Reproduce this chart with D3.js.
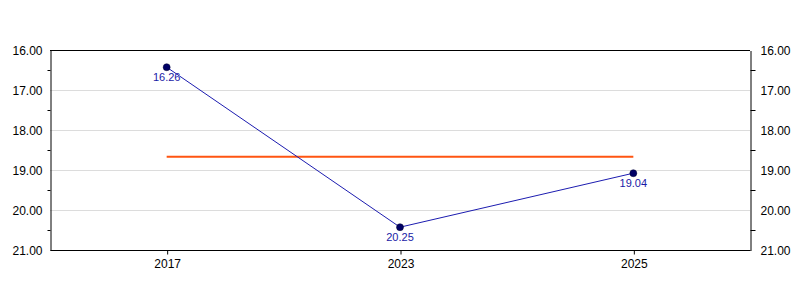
<!DOCTYPE html>
<html>
<head>
<meta charset="utf-8">
<script src="https://cdn.jsdelivr.net/npm/d3@7"></script>
<style>
  body { margin: 0; background: #fff; }
  text { font-family: "Liberation Sans", Arial, sans-serif; }
</style>
</head>
<body>
<div id="chart"></div>
<script>
// data
const years = ["2017", "2023", "2025"];
const values = [16.43, 20.43, 19.08];       // plotted positions
const valueLabels = ["16.26", "20.25", "19.04"]; // printed labels
const average = 18.67;
const yTicks = [16, 17, 18, 19, 20, 21];
const yMinorTicks = [16.5, 17.5, 18.5, 19.5, 20.5];

const W = 800, H = 300;
const margin = { top: 50, right: 50, bottom: 50, left: 50 };

const svg = d3.select("#chart").append("svg")
  .attr("width", W).attr("height", H);

const x = d3.scalePoint()
  .domain(years)
  .range([margin.left, W - margin.right])
  .padding(0.5);

const y = d3.scaleLinear()
  .domain([16, 21])
  .range([margin.top, H - margin.bottom]);

// grid
svg.append("g")
  .selectAll("line")
  .data(yTicks.slice(1, -1))
  .join("line")
  .attr("x1", margin.left).attr("x2", W - margin.right)
  .attr("y1", d => y(d) + 0.5).attr("y2", d => y(d) + 0.5)
  .attr("stroke", "#dcdcdc");

// top border
svg.append("line")
  .attr("x1", margin.left).attr("x2", W - margin.right)
  .attr("y1", margin.top + 0.5).attr("y2", margin.top + 0.5)
  .attr("stroke", "#000");

const fmt = d3.format(".2f");

function styleAxis(g) {
  g.select(".domain").attr("stroke", "#000");
  g.selectAll(".tick line").attr("stroke", "#000");
  g.selectAll(".tick text")
    .attr("fill", "#000")
    .attr("font-size", "12px")
    .attr("font-family", "'Liberation Sans', Arial, sans-serif");
}

// left axis
const left = svg.append("g")
  .attr("transform", `translate(${margin.left + 0.5},0.5)`)
  .call(d3.axisLeft(y).tickValues(yTicks).tickFormat(fmt).tickSize(0).tickPadding(8));
styleAxis(left);
left.append("g").selectAll("line")
  .data(yMinorTicks).join("line")
  .attr("x1", -3).attr("x2", 0)
  .attr("y1", d => y(d)).attr("y2", d => y(d))
  .attr("stroke", "#000");

// right axis
const right = svg.append("g")
  .attr("transform", `translate(${W - margin.right + 0.5},0.5)`)
  .call(d3.axisRight(y).tickValues(yTicks).tickFormat(fmt).tickSize(0).tickPadding(10));
styleAxis(right);
right.append("g").selectAll("line")
  .data(yMinorTicks).join("line")
  .attr("x1", 0).attr("x2", 5)
  .attr("y1", d => y(d)).attr("y2", d => y(d))
  .attr("stroke", "#000");

// bottom axis
const bottom = svg.append("g")
  .attr("transform", `translate(0.5,${H - margin.bottom + 0.5})`)
  .call(d3.axisBottom(x).tickSize(4).tickSizeOuter(0).tickPadding(5));
styleAxis(bottom);
bottom.select(".domain")
  .attr("d", `M${margin.left},0H${W - margin.right}`);

// average line
svg.append("line")
  .attr("x1", x(years[0])).attr("x2", x(years[years.length - 1]))
  .attr("y1", y(average)).attr("y2", y(average))
  .attr("stroke", "#ff5511")
  .attr("stroke-width", 2);

// series line
const pts = years.map((yr, i) => ({ yr, v: values[i], label: valueLabels[i] }));
svg.append("path")
  .datum(pts)
  .attr("fill", "none")
  .attr("stroke", "#1c1cb0")
  .attr("stroke-width", 1)
  .attr("d", d3.line().x(d => x(d.yr)).y(d => y(d.v)));

svg.append("g").selectAll("circle")
  .data(pts).join("circle")
  .attr("cx", d => x(d.yr)).attr("cy", d => y(d.v))
  .attr("r", 3.5)
  .attr("fill", "#000066")
  .attr("stroke", "#000033")
  .attr("stroke-width", 0.5);

svg.append("g").selectAll("text")
  .data(pts).join("text")
  .attr("x", d => x(d.yr)).attr("y", d => y(d.v) + 14)
  .attr("text-anchor", "middle")
  .attr("font-size", "11px")
  .attr("fill", "#1a1aa6")
  .text(d => d.label);
</script>
</body>
</html>
